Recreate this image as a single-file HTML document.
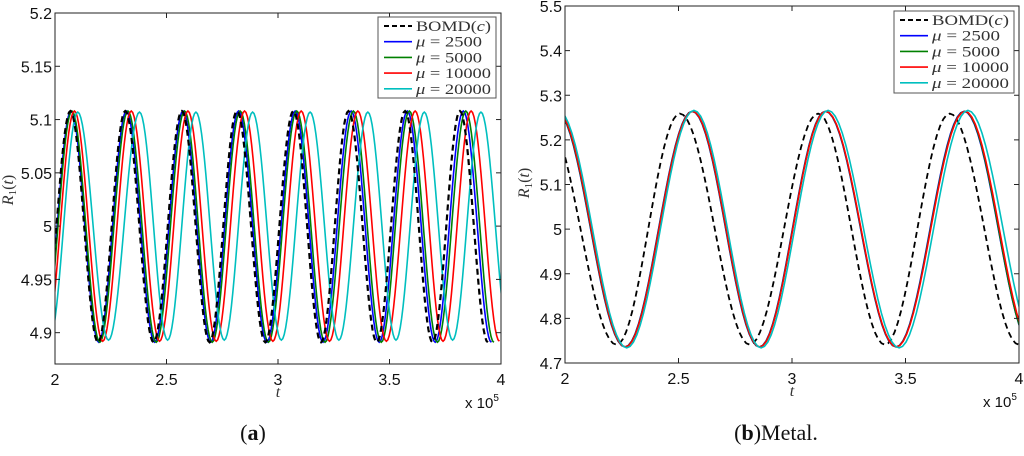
<!DOCTYPE html>
<html><head><meta charset="utf-8"><style>
body{margin:0;background:#fff;width:1024px;height:451px;overflow:hidden}
svg text{font-family:"Liberation Sans",sans-serif}
.serif{font-family:"Liberation Serif",serif}
</style></head><body>
<svg id="svg" width="1024" height="451"></svg>
<script>
// ---- Panel (a) data ----
const aXTicks=[2,2.5,3,3.5,4];
const aYTicks=[4.9,4.95,5,5.05,5.1,5.15,5.2];
const aYTickLabels=["4.9","4.95","5","5.05","5.1","5.15","5.2"];
const aNames=["BOMD(c)","μ = 2500","μ = 5000","μ = 10000","μ = 20000"];
const aPeakVal=[5.108,5.108,5.108,5.108,5.107];
const aTroughVal=[4.891,4.891,4.891,4.892,4.893];
const aBomdPeaks=[2.069,2.315,2.569,2.816,3.069,3.316,3.570,3.816];
const aBomdTroughs=[1.944,2.193,2.442,2.693,2.943,3.193,3.443,3.693,3.941];
const aMu2500Peaks=[2.072,2.320,2.574,2.823,3.077,3.328,3.580,3.831];
const aMu2500Troughs=[1.947,2.196,2.447,2.698,2.950,3.202,3.454,3.705,3.957];
const aMu5000Peaks=[2.076,2.327,2.581,2.830,3.084,3.338,3.589,3.842];
const aMu5000Troughs=[1.950,2.201,2.454,2.705,2.957,3.211,3.463,3.715,3.968];
const aMu10000Peaks=[2.087,2.342,2.596,2.850,3.104,3.358,3.615,3.866];
const aMu10000Troughs=[1.960,2.214,2.469,2.723,2.977,3.231,3.486,3.740,3.993];
const aMu20000Peaks=[2.102,2.379,2.632,2.886,3.144,3.403,3.656,3.910];
const aMu20000Troughs=[1.975,2.240,2.505,2.759,3.015,3.273,3.529,3.783,4.040];
// ---- Panel (b) data ----
const bXTicks=[2,2.5,3,3.5,4];
const bYTicks=[4.7,4.8,4.9,5,5.1,5.2,5.3,5.4,5.5];
const bYTickLabels=["4.7","4.8","4.9","5","5.1","5.2","5.3","5.4","5.5"];
const bPeakVal=[5.259,5.264,5.264,5.264,5.266];
const bTroughVal=[4.741,4.736,4.736,4.736,4.734];
const bBomdPeaks=[1.91,2.506,3.115,3.695];
const bBomdTroughs=[2.227,2.814,3.409,4.0];
const bMu2500Peaks=[1.962,2.560,3.147,3.758];
const bMu2500Troughs=[2.264,2.856,3.458,4.06];
const bMu5000Peaks=[1.963,2.561,3.148,3.760];
const bMu5000Troughs=[2.265,2.857,3.459,4.06];
const bMu10000Peaks=[1.965,2.562,3.149,3.762];
const bMu10000Troughs=[2.266,2.858,3.460,4.065];
const bMu20000Peaks=[1.970,2.568,3.159,3.775];
const bMu20000Troughs=[2.272,2.864,3.472,4.085];

const colors=["#000","#0000ff","#008000","#ff0000","#00bfbf"];
const NS="http://www.w3.org/2000/svg";
const svg=document.getElementById('svg');
function el(tag,attrs,parent){const e=document.createElementNS(NS,tag);for(const k in attrs)e.setAttribute(k,attrs[k]);(parent||svg).appendChild(e);return e;}

function panel(cfg){
  const g=el('g',{});
  
  
  const sx=v=>cfg.x0+(v-cfg.xmin)/(cfg.xmax-cfg.xmin)*(cfg.x1-cfg.x0);
  const sy=v=>cfg.y1-(v-cfg.ymin)/(cfg.ymax-cfg.ymin)*(cfg.y1-cfg.y0);
  const clip=el('clipPath',{id:cfg.name+'-clip'},g);
  el('rect',{x:cfg.x0,y:cfg.y0,width:cfg.x1-cfg.x0,height:cfg.y1-cfg.y0},clip);
  cfg.order.forEach(i=>{
    const s=cfg.series[i];
    const ext=[];
    s.peaks.forEach(t=>ext.push([t,cfg.peakVal[i]]));
    s.troughs.forEach(t=>ext.push([t,cfg.troughVal[i]]));
    ext.sort((a,b)=>a[0]-b[0]);
    let d='';
    for(let k=0;k<ext.length-1;k++){
      const [t0,v0]=ext[k],[t1,v1]=ext[k+1];
      for(let j=0;j<=20;j++){
        const f=j/20,t=t0+(t1-t0)*f,v=v0+(v1-v0)*(1-Math.cos(Math.PI*f))/2;
        d+=(d?'L':'M')+sx(t).toFixed(2)+','+sy(v).toFixed(2);
      }
    }
    const p=el('path',{d:d,fill:'none',stroke:colors[i],'stroke-width':i==0?cfg.bw:1.6,'clip-path':'url(#'+cfg.name+'-clip)'},g);
    if(i==0)p.setAttribute('stroke-dasharray','6,4');
    
    
  });
  el('rect',{x:cfg.x0,y:cfg.y0,width:cfg.x1-cfg.x0,height:cfg.y1-cfg.y0,fill:'none',stroke:'#222','stroke-width':1},g);
  cfg.xticks.forEach(v=>{
    const x=sx(v);
    el('line',{x1:x,y1:cfg.y1,x2:x,y2:cfg.y1-5,stroke:'#222'},g);
    el('line',{x1:x,y1:cfg.y0,x2:x,y2:cfg.y0+5,stroke:'#222'},g);
    const t=el('text',{x:x,y:cfg.y1+21,'font-size':16,'text-anchor':'middle',fill:'#111'},g);
    t.textContent=String(v);
    
    
  });
  cfg.yticks.forEach((v,i)=>{
    const y=sy(v);
    el('line',{x1:cfg.x0,y1:y,x2:cfg.x0+5,y2:y,stroke:'#222'},g);
    el('line',{x1:cfg.x1,y1:y,x2:cfg.x1-5,y2:y,stroke:'#222'},g);
    const t=el('text',{x:cfg.x0-3,y:y+6,'font-size':16,'text-anchor':'end',fill:'#111'},g);
    t.textContent=cfg.ylabels[i];
    
    
  });
  const xt=el('text',{x:(cfg.x0+cfg.x1)/2,y:cfg.y1+33,'font-size':16,'text-anchor':'middle','font-style':'italic',class:'serif',fill:'#333'},g);
  xt.textContent='t';
  
  
  const ex=el('text',{x:cfg.x1-36,y:cfg.y1+44,'font-size':15,fill:'#111'},g);
  ex.innerHTML='x 10<tspan dy="-7" font-size="10">5</tspan>';
  
  
  const yt=el('text',{x:0,y:0,'font-size':16,'text-anchor':'middle','font-style':'italic',class:'serif',fill:'#333',transform:'translate('+cfg.ylx+','+cfg.yly+') rotate(-90)'},g);
  yt.innerHTML='R<tspan font-size="11" dy="3" font-style="normal">1</tspan><tspan dy="-3" font-style="normal">(</tspan>t<tspan font-style="normal">)</tspan>';
  
  
  const L=cfg.legend;
  const lg=el('g',{},g);
  
  
  el('rect',{x:L.x,y:L.y,width:L.w,height:L.h,fill:'#fff',stroke:'#555'},lg);
  aNames.forEach((n,i)=>{
    const y=L.y+9+i*15.7;
    const ln=el('line',{x1:L.x+6,y1:y,x2:L.x+34,y2:y,stroke:colors[i],'stroke-width':i==0?2:1.6},lg);
    if(i==0)ln.setAttribute('stroke-dasharray','5,3');
    const t=el('text',{x:L.x+38,y:y+5,'font-size':15,class:'serif',fill:'#333',textLength:L.tl[i],lengthAdjust:'spacingAndGlyphs'},lg);
    if(i==0)t.innerHTML='BOMD(<tspan font-style="italic">c</tspan>)';
    else t.innerHTML='<tspan font-style="italic">μ</tspan> = '+n.split('= ')[1];
    
    
  });
}

panel({name:'panel-a',x0:55,x1:501,y0:13,y1:364,xmin:2,xmax:4,ymin:4.8706,ymax:5.2,bw:2.2,order:[1,2,3,4,0],
  xticks:aXTicks,yticks:aYTicks,ylabels:aYTickLabels,peakVal:aPeakVal,troughVal:aTroughVal,
  series:[{peaks:aBomdPeaks,troughs:aBomdTroughs},{peaks:aMu2500Peaks,troughs:aMu2500Troughs},{peaks:aMu5000Peaks,troughs:aMu5000Troughs},{peaks:aMu10000Peaks,troughs:aMu10000Troughs},{peaks:aMu20000Peaks,troughs:aMu20000Troughs}],
  ylx:13,yly:190,legend:{x:378,y:17,w:118,h:81,tl:[75,66,66,75,75]}});
panel({name:'panel-b',x0:565,x1:1019,y0:6,y1:363,xmin:2,xmax:4,ymin:4.7,ymax:5.5,bw:1.8,order:[0,1,2,3,4],
  xticks:bXTicks,yticks:bYTicks,ylabels:bYTickLabels,peakVal:bPeakVal,troughVal:bTroughVal,
  series:[{peaks:bBomdPeaks,troughs:bBomdTroughs},{peaks:bMu2500Peaks,troughs:bMu2500Troughs},{peaks:bMu5000Peaks,troughs:bMu5000Troughs},{peaks:bMu10000Peaks,troughs:bMu10000Troughs},{peaks:bMu20000Peaks,troughs:bMu20000Troughs}],
  ylx:529,yly:183,legend:{x:894,y:11,w:120,h:82,tl:[77,68,68,77,77]}});

const ca=el('text',{x:253,y:440,'font-size':22,'text-anchor':'middle',class:'serif',fill:'#111'});
ca.innerHTML='(<tspan font-weight="bold">a</tspan>)';


const cb=el('text',{x:776,y:440,'font-size':22,'text-anchor':'middle',class:'serif',fill:'#111'});
cb.innerHTML='(<tspan font-weight="bold">b</tspan>)Metal.';


</script>
</body></html>
